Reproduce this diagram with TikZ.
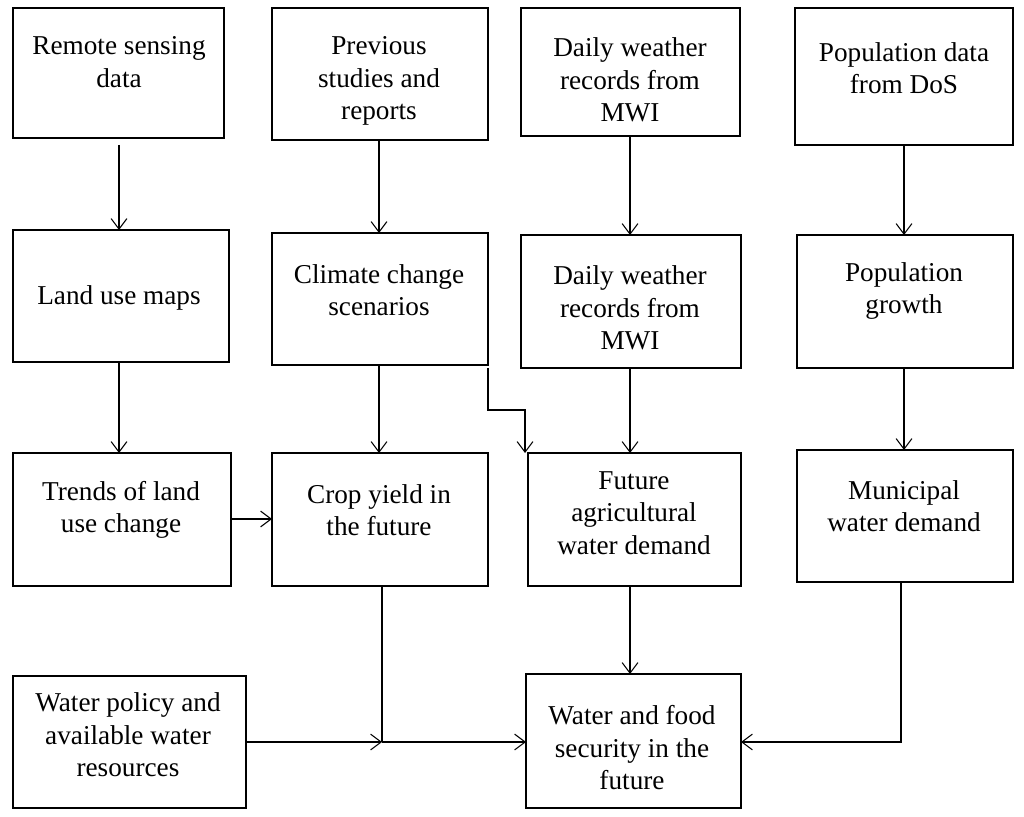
\documentclass[tikz,border=0pt]{standalone}
\usepackage{fontspec}
\setmainfont{Liberation Serif}
\usetikzlibrary{arrows.meta}
\begin{document}
\begin{tikzpicture}[x=0.02cm,y=-0.02cm,
  box/.style={draw,line width=0.6pt},
  txt/.style={align=center,font=\fontsize{15.5}{18.5}\selectfont,inner sep=0pt},
  arr/.style={-{Straight Barb[length=6pt,width=9pt]},line width=0.6pt},
  ln/.style={line width=0.6pt}]
\useasboundingbox (0,0) rectangle (1024,817);
% boxes
\draw[box] (13,8) rectangle (224,138) coordinate (a1r);
\coordinate (a1) at (119,138);
\draw[box] (272,8) rectangle (488,140);
\draw[box] (521,8) rectangle (740,136);
\draw[box] (795,8) rectangle (1013,145);
\draw[box] (13,230) rectangle (229,362);
\draw[box] (272,233) rectangle (488,365);
\draw[box] (521,235) rectangle (741,368);
\draw[box] (797,235) rectangle (1013,368);
\draw[box] (13,453) rectangle (231,586);
\draw[box] (272,453) rectangle (488,586);
\draw[box] (528,453) rectangle (741,586);
\draw[box] (797,450) rectangle (1013,582);
\draw[box] (13,676) rectangle (246,808);
\draw[box] (526,674) rectangle (741,808);
% texts
\node[txt] (t1) at (119,62) {Remote sensing\\data};
\node[txt] (t2) at (379,81) {Previous\\studies and\\reports};
\node[txt] (t3) at (630,80) {Daily weather\\records from\\MWI};
\node[txt] (t4) at (904,68) {Population data\\from DoS};
\node[txt] (t5) at (119,298) {Land use maps};
\node[txt] (t6) at (379,290) {Climate change\\scenarios};
\node[txt] (t7) at (630,308) {Daily weather\\records from\\MWI};
\node[txt] (t8) at (904,291) {Population\\growth};
\node[txt] (t9) at (121,510) {Trends of land\\use change};
\node[txt] (t10) at (379,510) {Crop yield in\\the future};
\node[txt] (t11) at (634,513) {Future\\agricultural\\water demand};
\node[txt] (t12) at (904,506) {Municipal\\water demand};
\node[txt] (t13) at (128,735) {Water policy and\\available water\\resources};
\node[txt] (t14) at (632,748) {Water and food\\security in the\\future};
% coordinates
\coordinate (p1a) at (119,145); \coordinate (p1b) at (119,230);
\coordinate (p2a) at (379,140); \coordinate (p2b) at (379,233);
\coordinate (p3a) at (630,136); \coordinate (p3b) at (630,235);
\coordinate (p4a) at (904,145); \coordinate (p4b) at (904,235);
\coordinate (q1a) at (119,362); \coordinate (q1b) at (119,453);
\coordinate (q2a) at (379,365); \coordinate (q2b) at (379,453);
\coordinate (q3a) at (630,368); \coordinate (q3b) at (630,453);
\coordinate (q4a) at (904,368); \coordinate (q4b) at (904,450);
\coordinate (e1) at (488,368); \coordinate (e2) at (525,453);
\coordinate (h1) at (231,519); \coordinate (h2) at (272,519);
\coordinate (v1) at (630,586); \coordinate (v2) at (630,674);
\coordinate (b3) at (382,586); \coordinate (m) at (382,742);
\coordinate (a4) at (246,742); \coordinate (c4l) at (526,742);
\coordinate (d3) at (901,582); \coordinate (c4r) at (741,742);
% arrows
\foreach \s/\t in {p1a/p1b,p2a/p2b,p3a/p3b,p4a/p4b,q1a/q1b,q2a/q2b,q3a/q3b,q4a/q4b,h1/h2,v1/v2}
  \draw[arr] (\s) -- (\t);
\draw[arr] (e1) -- (e1|-0,410) -| (e2);
\draw[ln] (b3) -- (m);
\draw[arr] (a4) -- (m);
\draw[arr] (m) -- (c4l);
\draw[arr] (d3) |- (c4r);
\end{tikzpicture}
\end{document}
